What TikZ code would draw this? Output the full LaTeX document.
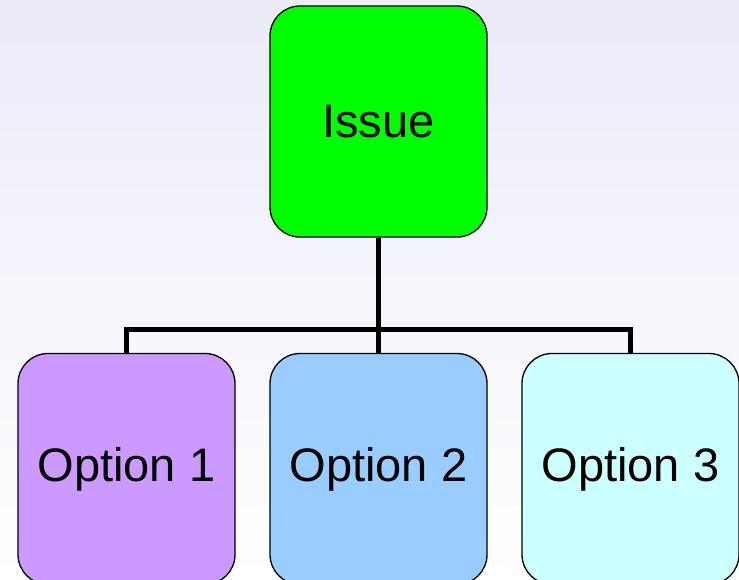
\documentclass[tikz,border=0pt]{standalone}
\usepackage{fontspec}
\setmainfont{Liberation Sans}
\begin{document}
\begin{tikzpicture}[x=1pt,y=-1pt,
  box/.style={draw=black,line width=1.3pt,rounded corners=30pt,
    minimum width=217pt,minimum height=231pt,inner sep=0pt,
    font=\fontsize{47}{53}\selectfont},
  conn/.style={draw=black,line width=5pt,line join=miter}]
  % page and soft background shading
  \useasboundingbox (0,0) rectangle (739,579);
  \clip (0,0) rectangle (739,579);
  \shade[top color={rgb,255:red,235;green,235;blue,249},
         bottom color=white] (0,0) rectangle (739,579);
  % boxes
  \node[box,fill={rgb,255:red,0;green,255;blue,0}] (issue) at (378.5,121.5) {Issue};
  \node[box,fill={rgb,255:red,204;green,153;blue,255}] (o1) at (126.5,469) {Option 1};
  \node[box,fill={rgb,255:red,153;green,204;blue,255}] (o2) at (378.5,469) {Option 2};
  \node[box,fill={rgb,255:red,204;green,255;blue,255}] (o3) at (630.5,469) {Option 3};
  % tree connectors
  \coordinate (bus) at (378.5,329);
  \draw[conn] (issue.south) -- (bus);
  \draw[conn] (o1.north) |- (bus) -| (o3.north);
  \draw[conn] (o2.north) -- (bus);
\end{tikzpicture}
\end{document}
